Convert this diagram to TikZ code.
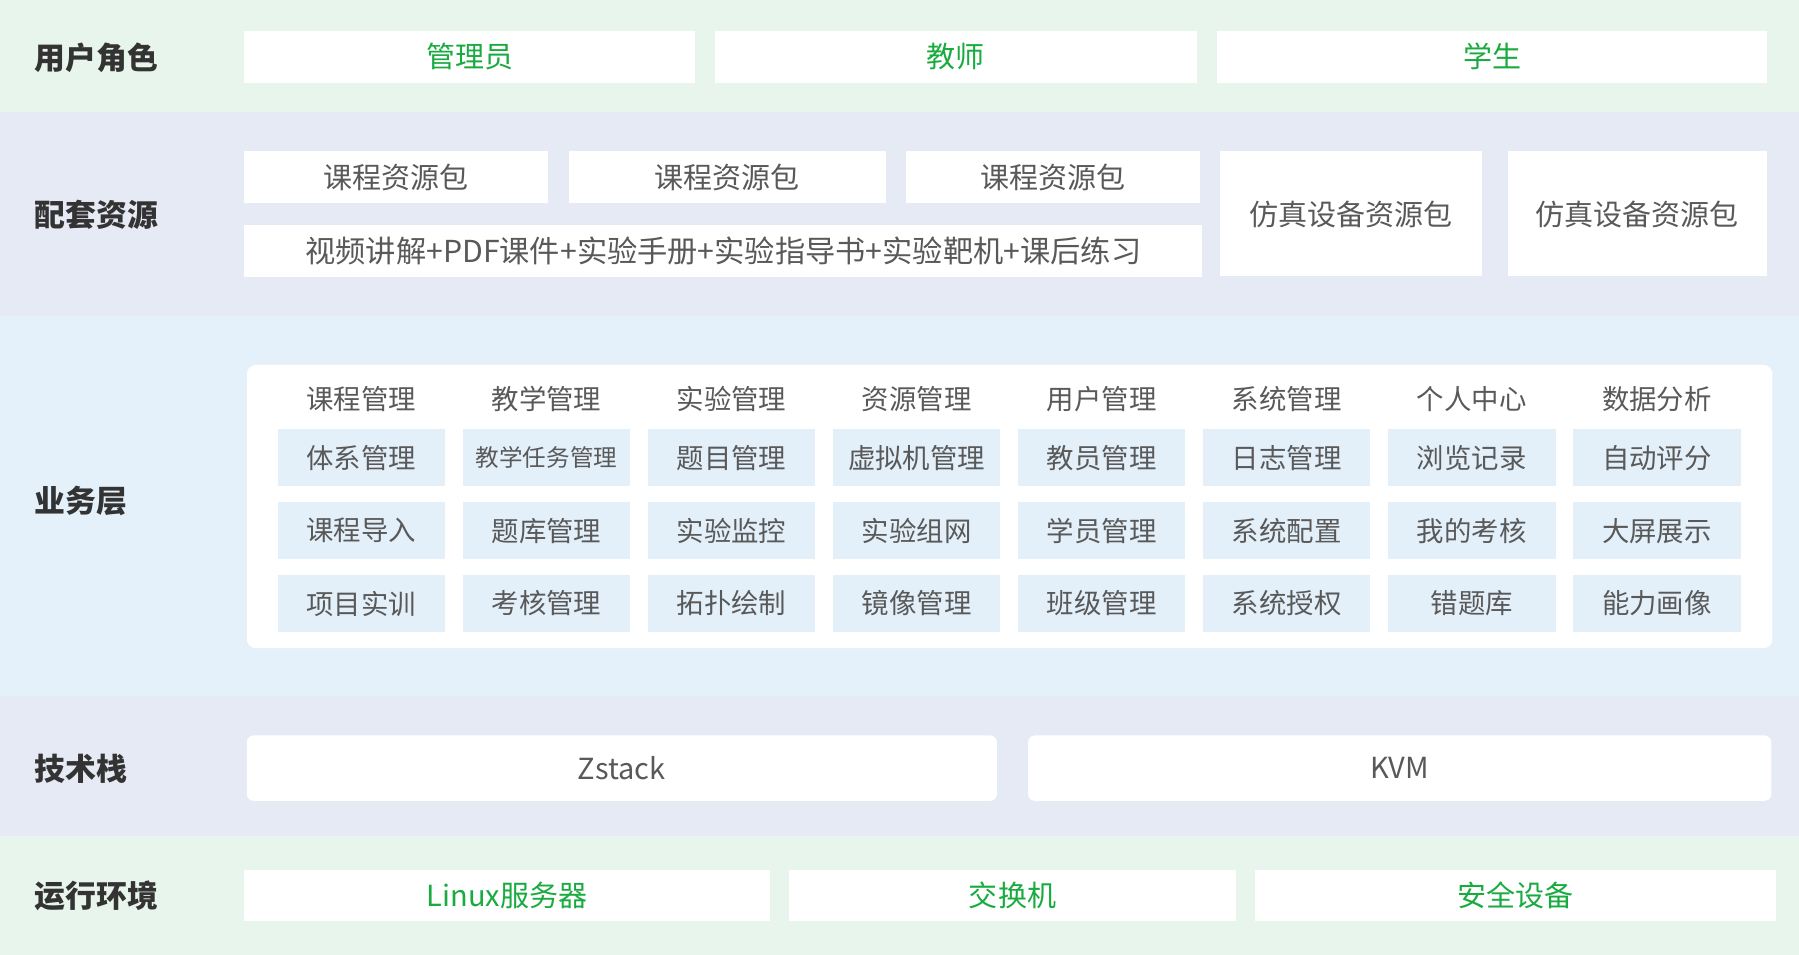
\documentclass[tikz,border=0pt]{standalone}
\usepackage{fontspec}
\setmainfont{Noto Sans CJK SC}
\usepackage{xcolor}
\usepackage{tikz}
\usetikzlibrary{positioning}

\definecolor{bandgreen}{HTML}{E8F5EC}
\definecolor{bandgrey}{HTML}{E6EAF5}
\definecolor{bandblue}{HTML}{E4F1FA}
\definecolor{cellblue}{HTML}{E3F0FA}
\definecolor{textgreen}{HTML}{1AAB40}
\definecolor{textgrey}{HTML}{595959}
\definecolor{labelgrey}{HTML}{333333}

\newcommand{\tasksize}{\fontsize{11.7}{14}\selectfont}

\begin{document}
\begin{tikzpicture}[
  x=0.02cm, y=-0.02cm,
  layer/.style={anchor=west, inner sep=0pt, text=labelgrey,
    font=\fontsize{15.3}{18}\selectfont\bfseries},
  whitebox/.style={
    rectangle,
    fill=white,
    inner sep=0pt,
    minimum width=#1,
    minimum height=0.9cm,
    text=textgrey,
    font=\fontsize{14.4}{17}\selectfont
  },
  greenbox/.style={whitebox=#1, text=textgreen},
  stackbox/.style={whitebox=#1, rounded corners=0.12cm, minimum height=1.14cm},
  cell/.style={
    rectangle,
    fill=cellblue,
    inner sep=0pt,
    minimum width=2.92cm,
    minimum height=1.0cm,
    text=textgrey,
    font=\fontsize{13.6}{16}\selectfont
  },
  head/.style={inner sep=0pt, text=textgrey, font=\fontsize{13.6}{16}\selectfont}
]

\useasboundingbox (0,0) rectangle (1568,832);

% Background bands
\fill[bandgreen] (0,0)   rectangle (1568,98);
\fill[bandgrey]  (0,98)  rectangle (1568,275);
\fill[bandblue]  (0,275) rectangle (1568,607);
\fill[bandgrey]  (0,607) rectangle (1568,729);
\fill[bandgreen] (0,729) rectangle (1568,832);

% Layer titles
\node[layer] (roles)     at (30,50)  {用户角色};
\node[layer] (resources) at (30,187) {配套资源};
\node[layer] (business)  at (30,437) {业务层};
\node[layer] (techstack) at (30,670) {技术栈};
\node[layer] (runtime)   at (30,781) {运行环境};

% User roles
\node[greenbox=7.86cm] (admin)   at (409.5,49.5)  {管理员};
\node[greenbox=8.4cm]  (teacher) at (833,49.5)    {教师};
\node[greenbox=9.58cm] (student) at (1300.5,49.5) {学生};

% Resource packages
\node[whitebox=5.3cm]  (pkg1) at (345.5,154.5) {课程资源包};
\node[whitebox=5.52cm] (pkg2) at (634,154.5)   {课程资源包};
\node[whitebox=5.12cm] (pkg3) at (918,154.5)   {课程资源包};
\node[whitebox=16.7cm, font=\fontsize{15}{18}\selectfont] (pkgcontent) at (630.5,219)
{视频讲解+PDF课件+实验手册+实验指导书+实验靶机+课后练习};
\node[whitebox=4.58cm, minimum height=2.18cm] (sim1) at (1177.5,186.5) {仿真设备资源包};
\node[whitebox=4.52cm, minimum height=2.18cm] (sim2) at (1427,186.5)   {仿真设备资源包};

% Business panel and modules
\node[fill=white, rounded corners=0.16cm, minimum width=26.6cm,
  minimum height=4.94cm, inner sep=0pt] (panel) at (880,441.5) {};

\foreach \title/\first/\second/\third [count=\i] in {
  课程管理/体系管理/课程导入/项目实训,
  教学管理/{\tasksize 教学任务管理}/题库管理/考核管理,
  实验管理/题目管理/实验监控/拓扑绘制,
  资源管理/虚拟机管理/实验组网/镜像管理,
  用户管理/教员管理/学员管理/班级管理,
  系统管理/日志管理/系统配置/系统授权,
  个人中心/浏览记录/我的考核/错题库,
  数据分析/自动评分/大屏展示/能力画像}
{
  \node[head] (h\i)   at ({315+161.3*(\i-1)},348)   {\title};
  \node[cell] (c\i-1) at ({315+161.3*(\i-1)},399)   {\first};
  \node[cell] (c\i-2) at ({315+161.3*(\i-1)},462.5) {\second};
  \node[cell] (c\i-3) at ({315+161.3*(\i-1)},526)   {\third};
}

% Tech stack
\node[stackbox=13.08cm] (zstack) at (542,669.5)  {Zstack};
\node[stackbox=12.96cm] (kvm)    at (1220,669.5) {KVM};

% Runtime environment
\node[greenbox=9.16cm] (server)   at (442,780.5)   {Linux服务器};
\node[greenbox=7.78cm] (switch)   at (882.5,780.5) {交换机};
\node[greenbox=9.08cm] (security) at (1321,780.5)  {安全设备};

\end{tikzpicture}
\end{document}
